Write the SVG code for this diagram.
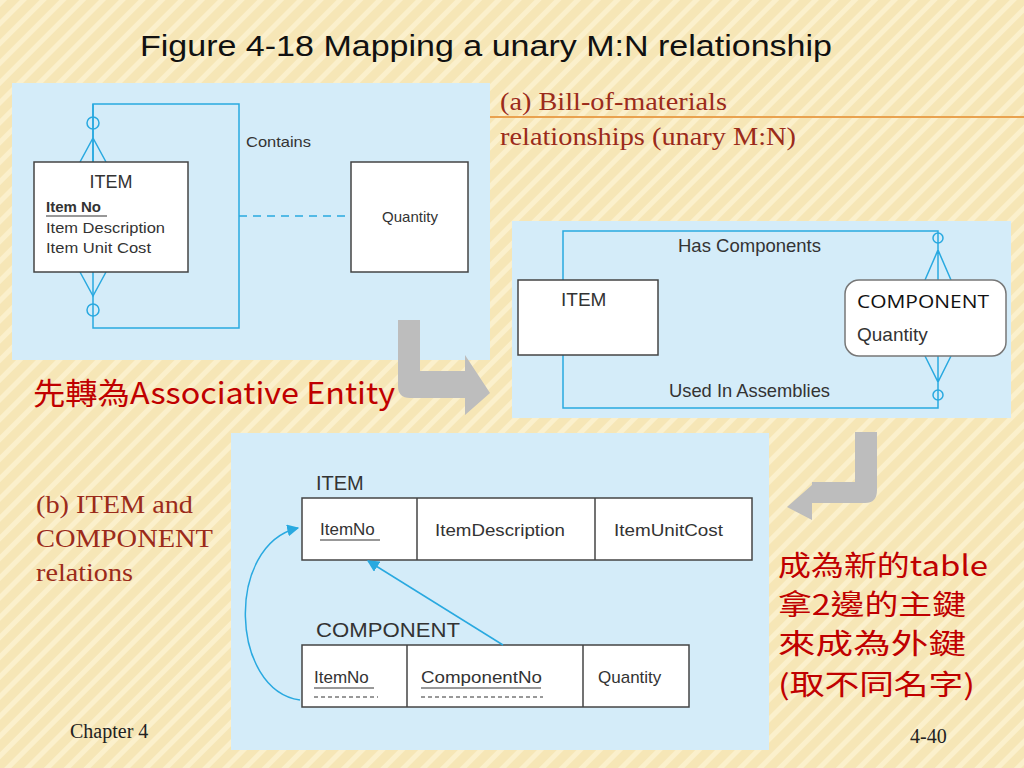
<svg xmlns="http://www.w3.org/2000/svg" width="1024" height="768" viewBox="0 0 1024 768">
<defs>
<pattern id="st" width="14" height="14" patternUnits="userSpaceOnUse" patternTransform="rotate(45)">
<rect width="14" height="14" fill="#f6e6b6"/><rect width="5" height="14" fill="#fbf0cc"/>
</pattern>
<marker id="ah" viewBox="0 0 10 10" refX="9" refY="5" markerWidth="8" markerHeight="8" orient="auto"><path d="M0,0 L10,5 L0,10 z" fill="#29a9e0"/></marker>
<style>
.pn{fill:#d4ecf9}
.bx{fill:#fff;stroke:#444;stroke-width:1.5}
.ln{fill:none;stroke:#29a9e0;stroke-width:1.5}
.s{font-family:"Liberation Sans",Arial,sans-serif;fill:#333}
.r{font-family:"Liberation Serif",serif;fill:#9b2b1b}
.cn{font-family:"Noto Sans CJK TC","Noto Sans",sans-serif;fill:#c00000}
.ar{fill:#bdbdbd}
</style>
</defs>
<rect width="1024" height="768" fill="url(#st)"/>
<text x="140" y="56" class="s" font-size="30" textLength="692" lengthAdjust="spacingAndGlyphs" style="fill:#111">Figure 4-18 Mapping a unary M:N relationship</text>
<line x1="490" y1="117" x2="1024" y2="117" stroke="#e9a24f" stroke-width="2"/>
<text x="500" y="110" class="r" font-size="25" textLength="227" lengthAdjust="spacingAndGlyphs">(a) Bill-of-materials</text>
<text x="500" y="145" class="r" font-size="25" textLength="296" lengthAdjust="spacingAndGlyphs">relationships (unary M:N)</text>

<g id="panelA">
<rect x="12" y="83" width="478" height="277" class="pn"/>
</g>
<g id="connectors">
<path class="ln" d="M93,104 H239 V328 H93 Z"/>
<path class="ln" d="M93,104 V162 M80,162 L93,138 L106,162 M80,272 L93,296 L106,272"/>
<circle cx="93" cy="123" r="6" class="ln"/><circle cx="93" cy="310" r="6" class="ln"/>
<line x1="239" y1="216" x2="351" y2="216" class="ln" stroke-dasharray="8,6"/>
</g>
<g id="item-a">
<rect x="34" y="162" width="154" height="110" class="bx"/>
<text x="111" y="188" class="s" font-size="18" text-anchor="middle">ITEM</text>
<text x="46" y="212" class="s" font-size="15" font-weight="bold">Item No</text>
<line x1="46" y1="216" x2="107" y2="216" stroke="#333" stroke-width="1.2"/>
<text x="46" y="233" class="s" font-size="15" textLength="119" lengthAdjust="spacingAndGlyphs">Item Description</text>
<text x="46" y="253" class="s" font-size="15" textLength="105" lengthAdjust="spacingAndGlyphs">Item Unit Cost</text>
</g>
<text x="246" y="147" class="s" font-size="15" textLength="65" lengthAdjust="spacingAndGlyphs">Contains</text>
<g id="quantity-a">
<rect x="351" y="162" width="117" height="110" class="bx"/>
<text x="410" y="222" class="s" font-size="15" text-anchor="middle">Quantity</text>
</g>

<path class="ar" d="M398,320 H420 V371 H465 V355 L490,393 L465,415 V398 H410 Q398,398 398,386 Z"/>
<text x="33" y="404" class="cn" font-size="30" textLength="362" lengthAdjust="spacingAndGlyphs">先轉為Associative Entity</text>

<g id="panelB">
<rect x="512" y="221" width="499" height="197" class="pn"/>
</g>
<g id="connectors-b">
<path class="ln" d="M563,280 V231 H938 V280 M925,280 L938,250 L951,280 M563,355 V408 H938 V356 M925,356 L938,382 L951,356"/>
<circle cx="938" cy="238" r="5" class="ln"/><circle cx="938" cy="395" r="5" class="ln"/>
</g>
<text x="678" y="252" class="s" font-size="19" textLength="143" lengthAdjust="spacingAndGlyphs">Has Components</text>
<text x="669" y="397" class="s" font-size="19" textLength="161" lengthAdjust="spacingAndGlyphs">Used In Assemblies</text>
<g id="item-b">
<rect x="518" y="280" width="140" height="75" class="bx"/>
<text x="561" y="306" class="s" font-size="19">ITEM</text>
</g>
<g id="component-b">
<rect x="845" y="280" width="161" height="76" rx="14" fill="#fff" stroke="#777" stroke-width="1.5"/>
<text x="857" y="308" font-family="'Open Sans','Liberation Sans',sans-serif" font-size="19" fill="#111" textLength="132" lengthAdjust="spacingAndGlyphs">COMPONENT</text>
<text x="857" y="341" class="s" font-size="19">Quantity</text>
</g>

<path class="ar" d="M855,432 H877 V490 Q877,503 865,503 H812 V520 L787,507 L812,485 V482 H855 Z"/>

<g id="panelC">
<rect x="231" y="433" width="538" height="317" class="pn"/>
</g>
<text x="36" y="513" class="r" font-size="25" textLength="157" lengthAdjust="spacingAndGlyphs">(b) ITEM and</text>
<text x="36" y="547" class="r" font-size="25" textLength="177" lengthAdjust="spacingAndGlyphs">COMPONENT</text>
<text x="36" y="581" class="r" font-size="25" textLength="97" lengthAdjust="spacingAndGlyphs">relations</text>
<g id="item-c">
<text x="316" y="490" class="s" font-size="20">ITEM</text>
<rect x="302" y="498" width="450" height="62" class="bx"/>
<line x1="417" y1="498" x2="417" y2="560" stroke="#444" stroke-width="1.5"/>
<line x1="595" y1="498" x2="595" y2="560" stroke="#444" stroke-width="1.5"/>
<text x="320" y="535" class="s" font-size="17">ItemNo</text>
<line x1="320" y1="540" x2="380" y2="540" stroke="#333"/>
<text x="435" y="536" class="s" font-size="17" textLength="130" lengthAdjust="spacingAndGlyphs">ItemDescription</text>
<text x="614" y="536" class="s" font-size="17" textLength="109" lengthAdjust="spacingAndGlyphs">ItemUnitCost</text>
</g>
<g id="component-c">
<text x="316" y="637" class="s" font-size="20" textLength="144" lengthAdjust="spacingAndGlyphs">COMPONENT</text>
<rect x="302" y="645" width="387" height="62" class="bx"/>
<line x1="407" y1="645" x2="407" y2="707" stroke="#444" stroke-width="1.5"/>
<line x1="583" y1="645" x2="583" y2="707" stroke="#444" stroke-width="1.5"/>
<text x="314" y="683" class="s" font-size="17">ItemNo</text>
<line x1="314" y1="688" x2="374" y2="688" stroke="#333"/>
<line x1="314" y1="697" x2="378" y2="697" stroke="#333" stroke-dasharray="4,3"/>
<text x="421" y="683" class="s" font-size="17" textLength="121" lengthAdjust="spacingAndGlyphs">ComponentNo</text>
<line x1="421" y1="688" x2="541" y2="688" stroke="#333"/>
<line x1="421" y1="697" x2="543" y2="697" stroke="#333" stroke-dasharray="4,3"/>
<text x="598" y="683" class="s" font-size="17">Quantity</text>
</g>
<g id="connectors-c">
<path class="ln" d="M300,700 C230,690 225,545 298,528" marker-end="url(#ah)"/>
<path class="ln" d="M503,645 L368,561" marker-end="url(#ah)"/>
</g>

<text x="778" y="576" class="cn" font-size="28" textLength="210" lengthAdjust="spacingAndGlyphs">成為新的table</text>
<text x="778" y="615" class="cn" font-size="28" textLength="188" lengthAdjust="spacingAndGlyphs">拿2邊的主鍵</text>
<text x="778" y="654" class="cn" font-size="28" textLength="188" lengthAdjust="spacingAndGlyphs">來成為外鍵</text>
<text x="778" y="695" class="cn" font-size="28" textLength="197" lengthAdjust="spacingAndGlyphs">(取不同名字)</text>
<text x="70" y="738" font-family="'Liberation Serif',serif" font-size="20" fill="#222">Chapter 4</text>
<text x="910" y="743" font-family="'Liberation Serif',serif" font-size="20" fill="#222">4-40</text>
</svg>
